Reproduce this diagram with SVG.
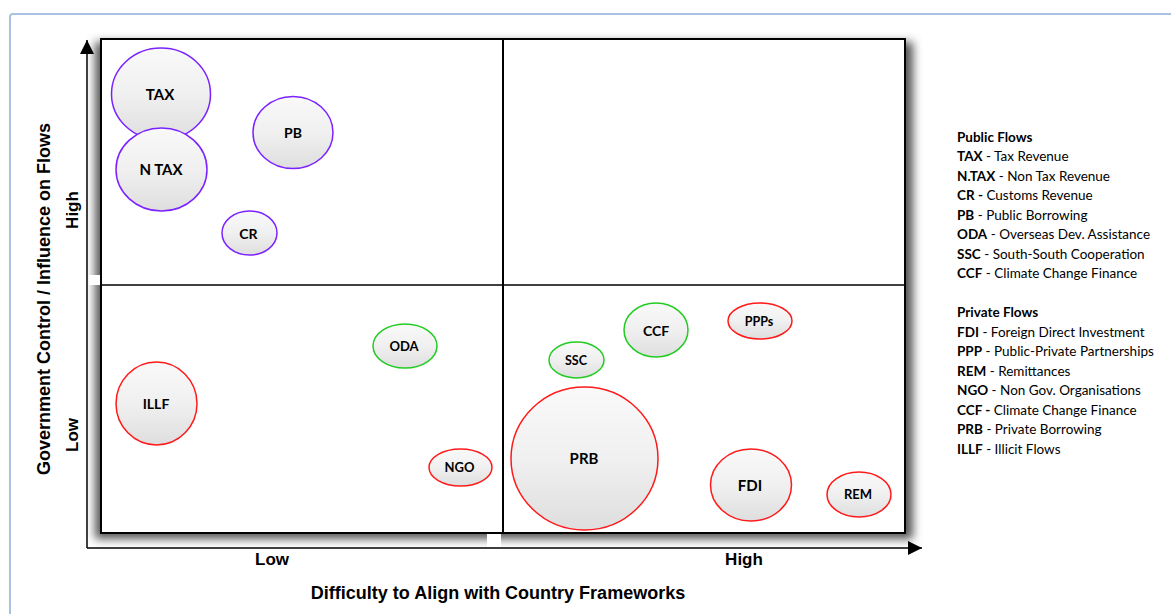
<svg xmlns="http://www.w3.org/2000/svg" width="1171" height="614" viewBox="0 0 1171 614">
<defs>
  <linearGradient id="bub" x1="0" y1="0" x2="0" y2="1">
    <stop offset="0" stop-color="#f9f9f9"/>
    <stop offset="0.5" stop-color="#f0f0f0"/>
    <stop offset="1" stop-color="#dedede"/>
  </linearGradient>
  <filter id="blur" x="-10%" y="-10%" width="120%" height="120%">
    <feGaussianBlur stdDeviation="5"/>
  </filter>
  <marker id="arr" viewBox="0 0 10 10" refX="10" refY="5" markerWidth="14" markerHeight="14" markerUnits="userSpaceOnUse" orient="auto">
    <path d="M0,0 L10,5 L0,10 z" fill="#000"/>
  </marker>
  <style>
    .pub{stroke:#7b22ff;stroke-width:1.5;fill:url(#bub)}
    .prv{stroke:#ff1a1a;stroke-width:1.5;fill:url(#bub)}
    .grn{stroke:#22cc22;stroke-width:1.5;fill:url(#bub)}
    .bl{font-family:Lato,"Liberation Sans",sans-serif;font-weight:bold;fill:#000;text-anchor:middle;dominant-baseline:central}
    .ax{font-family:"Liberation Sans",Arial,sans-serif;font-weight:bold;font-size:18px;fill:#000;text-anchor:middle}
    .ax2{font-family:"Liberation Sans",Arial,sans-serif;font-weight:bold;font-size:17px;fill:#000;text-anchor:middle}
    .lg{font-family:Lato,"Liberation Sans",sans-serif;font-size:13.5px;fill:#000}
    .lg tspan.b{font-weight:bold}
  </style>
</defs>
<rect x="10" y="14" width="1180" height="620" rx="3" fill="none" stroke="#a9c2e4" stroke-width="2"/>

<g id="grid">
  <rect x="95" y="42" width="818" height="497" fill="#555" filter="url(#blur)"/>
  <rect x="89" y="275" width="12" height="10" fill="#fff"/>
  <rect x="487" y="533" width="14" height="14" fill="#fff"/>
  <rect x="101" y="39" width="804" height="494" fill="#fff" stroke="#000" stroke-width="2"/>
  <line x1="503" y1="39" x2="503" y2="533" stroke="#000" stroke-width="2"/>
  <line x1="101" y1="285" x2="905" y2="285" stroke="#000" stroke-width="1.5"/>
</g>

<g id="connectors">
  <line x1="87" y1="548" x2="87" y2="40" stroke="#000" stroke-width="1.5" marker-end="url(#arr)"/>
  <line x1="87" y1="548" x2="922" y2="548" stroke="#000" stroke-width="1.5" marker-end="url(#arr)"/>
</g>

<g id="node-tax"><ellipse class="pub" cx="161" cy="94" rx="49.5" ry="46"/><text class="bl" x="160" y="94" font-size="15">TAX</text></g>
<g id="node-ntax"><ellipse class="pub" cx="161.5" cy="169.5" rx="45.5" ry="41.5"/><text class="bl" x="161" y="169" font-size="15">N TAX</text></g>
<g id="node-pb"><ellipse class="pub" cx="293" cy="132.5" rx="40" ry="36"/><text class="bl" x="293" y="132" font-size="14">PB</text></g>
<g id="node-cr"><ellipse class="pub" cx="249.5" cy="233" rx="27.5" ry="22"/><text class="bl" x="248.5" y="233" font-size="14">CR</text></g>
<g id="node-oda"><ellipse class="grn" cx="405" cy="346" rx="32" ry="22"/><text class="bl" x="404" y="346" font-size="13">ODA</text></g>
<g id="node-illf"><ellipse class="prv" cx="156.5" cy="403.5" rx="40.5" ry="41.5"/><text class="bl" x="156" y="403" font-size="14">ILLF</text></g>
<g id="node-ngo"><ellipse class="prv" cx="460.5" cy="467.5" rx="31.5" ry="18.5"/><text class="bl" x="459.5" y="467" font-size="13">NGO</text></g>
<g id="node-ssc"><ellipse class="grn" cx="576.5" cy="360" rx="27.5" ry="18"/><text class="bl" x="576" y="360" font-size="12.5">SSC</text></g>
<g id="node-ccf"><ellipse class="grn" cx="656" cy="330" rx="32" ry="27"/><text class="bl" x="656" y="330" font-size="14">CCF</text></g>
<g id="node-ppps"><ellipse class="prv" cx="760" cy="321" rx="32" ry="18"/><text class="bl" x="759" y="321" font-size="12.5">PPPs</text></g>
<g id="node-prb"><ellipse class="prv" cx="584.5" cy="458.5" rx="73.5" ry="71.5"/><text class="bl" x="584" y="458" font-size="15">PRB</text></g>
<g id="node-fdi"><ellipse class="prv" cx="751" cy="485" rx="40.5" ry="36"/><text class="bl" x="750" y="485" font-size="15">FDI</text></g>
<g id="node-rem"><ellipse class="prv" cx="859" cy="494.5" rx="32" ry="22.5"/><text class="bl" x="858" y="494" font-size="13">REM</text></g>

<g id="axis-labels">
  <text class="ax" transform="translate(50,299) rotate(-90)">Government Control / Influence on Flows</text>
  <text class="ax2" transform="translate(78,210) rotate(-90)">High</text>
  <text class="ax2" transform="translate(78,435) rotate(-90)">Low</text>
  <text class="ax2" x="272" y="565">Low</text>
  <text class="ax2" x="744" y="565">High</text>
  <text class="ax" x="498" y="599">Difficulty to Align with Country Frameworks</text>
</g>

<g id="legend" class="lg">
  <text x="957" y="142"><tspan class="b">Public Flows</tspan></text>
  <text x="957" y="161"><tspan class="b">TAX</tspan> - Tax Revenue</text>
  <text x="957" y="181"><tspan class="b">N.TAX</tspan> -  Non Tax Revenue</text>
  <text x="957" y="200"><tspan class="b">CR -</tspan>  Customs Revenue</text>
  <text x="957" y="220"><tspan class="b">PB</tspan> - Public Borrowing</text>
  <text x="957" y="239"><tspan class="b">ODA</tspan> - Overseas Dev. Assistance</text>
  <text x="957" y="259"><tspan class="b">SSC</tspan> -  South-South Cooperation</text>
  <text x="957" y="278"><tspan class="b">CCF</tspan> - Climate Change Finance</text>
  <text x="957" y="317"><tspan class="b">Private Flows</tspan></text>
  <text x="957" y="337"><tspan class="b">FDI</tspan> -  Foreign Direct Investment</text>
  <text x="957" y="356"><tspan class="b">PPP</tspan> - Public-Private Partnerships</text>
  <text x="957" y="376"><tspan class="b">REM</tspan> - Remittances</text>
  <text x="957" y="395"><tspan class="b">NGO</tspan> - Non Gov. Organisations</text>
  <text x="957" y="415"><tspan class="b">CCF -</tspan> Climate Change Finance</text>
  <text x="957" y="434"><tspan class="b">PRB</tspan> -  Private Borrowing</text>
  <text x="957" y="454"><tspan class="b">ILLF</tspan> - Illicit Flows</text>
</g>
</svg>
